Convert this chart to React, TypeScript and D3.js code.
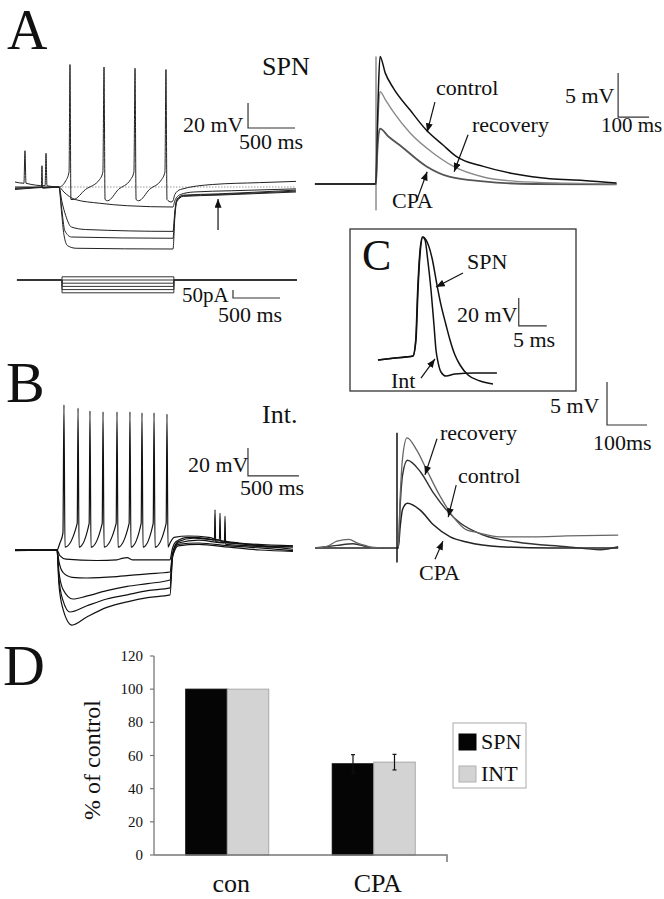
import React from "react";
import * as d3 from "d3";

type Pt = [number, number];

// ---------- Panel A, SPN: current-clamp steps (ms, mV) ----------
const spnSpiking: Pt[] = [
  [0, -56], [95, -57], [106, -31], [117, -57], [320, -59], [330, -33], [340, -59],
  [468, -60], [540, -55], [575, -48], [585, 38], [595, -70], [620, -70], [750, -62],
  [900, -54], [935, -48], [947, 36], [958, -70], [985, -71], [1100, -62], [1230, -54],
  [1265, -48], [1277, 35], [1288, -70], [1315, -71], [1430, -62], [1560, -54], [1595, -48],
  [1606, 34], [1617, -70], [1660, -72], [1681, -71], [1700, -66], [1760, -62], [2100, -58],
  [2600, -56.5], [2989, -55.5],
];
const spnHyper1: Pt[] = [
  [0, -60], [280, -60], [287, -43], [294, -61], [468, -60], [520, -64], [640, -70],
  [900, -73], [1200, -75], [1681, -76], [1700, -71], [1760, -66], [1900, -64], [2300, -63],
  [2989, -61.5],
];
const spnHyper2: Pt[] = [
  [0, -61], [468, -60], [500, -72], [540, -83], [600, -92], [750, -94], [1681, -95.5],
  [1700, -80], [1720, -70], [1790, -66.5], [2160, -65.5], [2989, -62.5],
];
const spnHyper3: Pt[] = [
  [0, -61], [468, -60], [495, -76], [530, -95], [600, -100], [1681, -101], [1700, -82],
  [1720, -71], [1790, -67], [2160, -66], [2989, -63.3],
];
const spnHyper4: Pt[] = [
  [0, -62], [468, -60], [495, -80], [520, -98], [560, -107], [650, -109], [1681, -109.6],
  [1700, -85], [1720, -72], [1790, -67.5], [2160, -66.5], [2989, -64],
];
const spnTraces = [spnSpiking, spnHyper1, spnHyper2, spnHyper3, spnHyper4];
const spnRestMv = -60;
const spnCurrentSteps = [20, 0, -20, -40, -60, -80]; // pA
const spnStepWindow = [500, 1690]; // ms

// ---------- Panel A, SPN: evoked EPSPs (ms from stimulus, mV) ----------
const spnControl: Pt[] = [
  [-197, 0], [-2, 0], [0, 0.5], [4, 6], [8, 11], [13, 14.5], [30, 12.6], [56, 10.9],
  [110, 8.4], [163, 6.1], [217, 4.4], [260, 3.1], [346, 2.0], [454, 1.1], [561, 0.6],
  [669, 0.4], [776, 0.1],
];
const spnRecovery: Pt[] = [
  [-197, 0], [0, 0], [4, 5], [8, 8.5], [13, 10.5], [30, 9.6], [56, 8.2], [110, 5.8],
  [185, 3.5], [250, 2.0], [346, 0.8], [454, 0.3], [615, 0.1], [776, 0],
];
const spnCpa: Pt[] = [
  [-197, 0], [0, 0], [4, 3.5], [8, 5.5], [13, 6.3], [40, 5.4], [77, 4.4], [163, 2.0],
  [239, 0.8], [346, 0.3], [506, 0], [776, -0.05],
];
const spnArtifact: Pt[] = [[0, 14.5], [0, -3]];

// ---------- Panel C: single action potentials (ms, mV) ----------
const apSpn: Pt[] = [
  [-8.04, -61.4], [-5, -60], [-1.79, -58.6], [-1.25, -47.1], [-0.89, -11.4], [-0.54, 13.6],
  [0, 26.4], [0.54, 24.3], [1.61, 11.4], [2.5, -7.9], [3.21, -22.1], [4.11, -36.4],
  [4.82, -47.1], [5.71, -57.9], [6.61, -65], [8.04, -72.1], [10.18, -76.4], [12.5, -78.6],
];
const apInt: Pt[] = [
  [-8.04, -61.4], [-5, -60], [-1.79, -58.6], [-1.3, -47], [-0.95, -11.4], [-0.6, 13.6],
  [-0.1, 26.4], [0.36, 24.3], [0.89, 8.6], [1.43, -11.4], [1.96, -36.4], [2.32, -54.3],
  [2.68, -62.9], [3.21, -70], [4.11, -72.9], [5.71, -71.4], [9.29, -70.7], [13.2, -70.7],
];

// ---------- Panel B, interneuron: current-clamp steps (ms, mV) ----------
const intSpiking: Pt[] = [
  [0, -60], [412, -60], [440, -55], [470, -48], [480, 43.6], [490, -58], [610, -41],
  [618, 41.4], [628, -58], [727, -41], [735, 39.3], [745, -58], [855, -41], [863, 38.6],
  [873, -58], [992, -41], [1000, 38.6], [1010, -58], [1119, -41], [1127, 38.6], [1137, -58],
  [1237, -41], [1245, 37.9], [1255, -58], [1355, -41], [1363, 37.9], [1373, -58], [1482, -41],
  [1490, 37.1], [1500, -58], [1520, -55], [1560, -51], [1700, -50], [1900, -51], [2000, -53],
  [2200, -55], [2725, -57],
];
const intHyper1: Pt[] = [
  [0, -60], [412, -60], [440, -64], [500, -66.5], [800, -67.5], [1000, -67], [1050, -66],
  [1100, -65.5], [1150, -67], [1520, -67], [1540, -60], [1580, -54], [1700, -51], [1900, -52],
  [1955, -53], [1961, -31.4], [1967, -54], [2200, -55.5], [2400, -57], [2725, -58],
];
const intHyper2: Pt[] = [
  [0, -60.5], [412, -60], [430, -68], [470, -76], [560, -79.5], [700, -80], [1000, -79],
  [1300, -77], [1520, -75.7], [1545, -62], [1600, -54], [1750, -51.5], [2004, -53],
  [2010, -33.6], [2016, -54], [2300, -56], [2725, -59.5],
];
const intHyper3: Pt[] = [
  [0, -60], [412, -60], [430, -75], [470, -88], [569, -95], [700, -93], [900, -89],
  [1100, -86], [1300, -84], [1520, -81.4], [1545, -63], [1600, -55], [1800, -53],
  [2053, -55], [2059, -35.7], [2065, -56], [2300, -57], [2500, -58], [2725, -57],
];
const intHyper4: Pt[] = [
  [0, -60], [412, -60], [430, -80], [470, -96], [539, -104.3], [700, -100], [900, -95],
  [1100, -92], [1300, -89], [1520, -87.1], [1545, -64], [1600, -56], [1800, -55],
  [2100, -57], [2400, -58.5], [2725, -60.5],
];
const intHyper5: Pt[] = [
  [0, -60], [412, -60], [430, -84], [470, -102], [559, -113.6], [700, -108], [900, -101],
  [1100, -97], [1300, -94], [1520, -92.1], [1545, -65], [1600, -57], [1800, -56],
  [2100, -58], [2400, -60], [2725, -61],
];
const intTraces = [intSpiking, intHyper1, intHyper2, intHyper3, intHyper4, intHyper5];

// ---------- Panel B, interneuron: evoked EPSPs (ms from stimulus, mV) ----------
const intRecovery: Pt[] = [
  [-205, 0], [-175, 0.2], [-150, 0.8], [-120, 1.0], [-100, 0.6], [-80, 0.3], [-60, 0.05],
  [-5, 0], [3, 0], [8, 6], [14, 10.5], [25, 12.8], [49, 11.4], [74, 9.1], [108, 6.0],
  [141, 3.6], [174, 2.1], [191, 1.9], [258, 1.3], [341, 1.3], [424, 1.4], [553, 1.5],
];
const intControl: Pt[] = [
  [-205, 0], [-150, 0.3], [-110, 0.5], [-70, 0.1], [-5, 0], [3, 0], [8, 5], [14, 8.5],
  [26, 10.2], [58, 8.9], [91, 6.4], [124, 4.4], [158, 2.9], [216, 1.5], [299, 0.7],
  [424, 0.15], [508, -0.2], [553, 0.15],
];
const intCpa: Pt[] = [
  [-205, 0], [-5, 0], [3, 0], [8, 2.5], [14, 4.5], [26, 5.2], [58, 4.4], [91, 2.7],
  [133, 1.3], [174, 0.7], [258, 0.15], [383, 0], [553, 0],
];
const intArtifact: Pt[] = [[0, 13.4], [0, -1.7]];

// ---------- Panel D: summary bars ----------
const categories = ["con", "CPA"];
const seriesNames = ["SPN", "INT"];
const spnPercent = [100, 55];
const intPercent = [100, 56];
const spnSem = [0, 5.5];
const intSem = [0, 4.7];
const yTicks = [0, 20, 40, 60, 80, 100, 120];

const FONT = "Liberation Serif";

const mkLine = (X: any, Y: any, curve: any = d3.curveMonotoneX) =>
  d3.line<Pt>().x((d) => X(d[0])).y((d) => Y(d[1])).curve(curve);

const Txt = ({ x, y, size = 22, anchor = "start", children }: any) => (
  <text
    x={x}
    y={y}
    textAnchor={anchor}
    fill="#111"
    style={{ fontFamily: FONT, fontSize: `${size}px` }}
  >
    {children}
  </text>
);

// scale bar drawn from its corner in data units
const ScaleBar = ({ X, Y, corner, dv, dt }: any) => {
  const x0 = X(corner[0]);
  const y0 = Y(corner[1]);
  return (
    <path
      d={`M${x0},${Y(corner[1] + dv)}L${x0},${y0}L${X(corner[0] + dt)},${y0}`}
      fill="none"
      stroke="#333"
      strokeWidth={1.2}
    />
  );
};

const Arrow = ({ X, Y, from, to }: any) => (
  <line
    x1={X(from[0])}
    y1={Y(from[1])}
    x2={X(to[0])}
    y2={Y(to[1])}
    stroke="#111"
    strokeWidth={1.2}
    markerEnd="url(#arrowHead)"
  />
);

export default function App() {
  // Panel A scales
  const aX = d3.scaleLinear().domain([0, 3000]).range([15, 297]);
  const aY = d3.scaleLinear().domain([-110, 40]).range([249.5, 62]);
  const aI = d3.scaleLinear().domain([-100, 25]).range([296, 276]);
  const arX = d3.scaleLinear().domain([-200, 900]).range([314, 655]);
  const arY = d3.scaleLinear().domain([-5, 15]).range([228, 52]);
  // Panel C scales
  const cX = d3.scaleLinear().domain([-10, 25]).range([367, 563]);
  const cY = d3.scaleLinear().domain([-80, 30]).range([386, 232]);
  // Panel B scales
  const bX = d3.scaleLinear().domain([0, 2800]).range([15, 300.6]);
  const bY = d3.scaleLinear().domain([-120, 50]).range([634, 396]);
  const brX = d3.scaleLinear().domain([-200, 650]).range([317, 657]);
  const brY = d3.scaleLinear().domain([-5, 20]).range([591, 376]);
  // Panel D scales
  const dY = d3.scaleLinear().domain([0, 120]).range([855, 656]);
  const dX = d3.scaleBand().domain(categories).range([154, 447]);
  const dSub = d3
    .scaleBand()
    .domain(seriesNames)
    .range([0, dX.bandwidth()])
    .paddingInner(0)
    .paddingOuter(0.765);

  const aLine = mkLine(aX, aY);
  const arLine = mkLine(arX, arY);
  const cLine = mkLine(cX, cY);
  const bLine = mkLine(bX, bY);
  const brLine = mkLine(brX, brY);

  const currentPath = (amp: number) =>
    d3.line<Pt>().x((d) => aX(d[0])).y((d) => aI(d[1]))([
      [21, 0],
      [spnStepWindow[0], 0],
      [spnStepWindow[0], amp],
      [spnStepWindow[1], amp],
      [spnStepWindow[1], 0],
      [3000, 0],
    ]);

  const barRows = categories.map((c, i) => [
    { cat: c, s: "SPN", v: spnPercent[i], e: spnSem[i], fill: "#050505", stroke: "#050505" },
    { cat: c, s: "INT", v: intPercent[i], e: intSem[i], fill: "#d3d3d3", stroke: "#a8a8a8" },
  ]).flat();

  return (
    <svg
      width={664}
      height={899}
      style={{ position: "absolute", left: 0, top: 0, background: "#fff", fontFamily: FONT }}
    >
      <defs>
        <marker
          id="arrowHead"
          viewBox="0 0 10 8"
          refX={10}
          refY={4}
          markerWidth={9}
          markerHeight={7}
          markerUnits="userSpaceOnUse"
          orient="auto"
        >
          <path d="M0,0L10,4L0,8z" fill="#111" />
        </marker>
      </defs>
      <rect width={664} height={899} fill="#fff" />

      {/* ---------------- Panel A ---------------- */}
      <Txt x={7} y={49} size={56}>A</Txt>
      <Txt x={262} y={75} size={26}>SPN</Txt>
      <line
        x1={aX(500)}
        x2={aX(2989)}
        y1={aY(spnRestMv)}
        y2={aY(spnRestMv)}
        stroke="#999"
        strokeWidth={1}
        strokeDasharray="1.5,1.5"
      />
      {spnTraces.map((t, i) => (
        <path key={i} d={aLine(t) || ""} fill="none" stroke="#222" strokeWidth={1} />
      ))}
      <Arrow X={aX} Y={aY} from={[2160, -94.4]} to={[2160, -69.6]} />
      <ScaleBar X={aX} Y={aY} corner={[2479, -12.8]} dv={20} dt={500} />
      <Txt x={183} y={132}>20 mV</Txt>
      <Txt x={239} y={149}>500 ms</Txt>

      {spnCurrentSteps.map((amp) => (
        <path key={amp} d={currentPath(amp) || ""} fill="none" stroke="#333" strokeWidth={1} />
      ))}
      <path
        d={`M${aX(2319)},${aI(-112.5 + 50)}L${aX(2319)},${aI(-112.5)}L${aX(2819)},${aI(-112.5)}`}
        fill="none"
        stroke="#333"
        strokeWidth={1.2}
      />
      <Txt x={182} y={302} size={21}>50pA</Txt>
      <Txt x={218} y={322}>500 ms</Txt>

      {[
        { d: spnCpa, c: "#555", w: 1.8 },
        { d: spnRecovery, c: "#8a8a8a", w: 1.4 },
        { d: spnControl, c: "#111", w: 1.5 },
      ].map((t, i) => (
        <path key={i} d={arLine(t.d) || ""} fill="none" stroke={t.c} strokeWidth={t.w} />
      ))}
      <path d={mkLine(arX, arY, d3.curveLinear)(spnArtifact) || ""} stroke="#555" strokeWidth={1} />
      <Arrow X={arX} Y={arY} from={[190, 9.3]} to={[165, 5.9]} />
      <Arrow X={arX} Y={arY} from={[297, 5.6]} to={[252, 1.4]} />
      <Arrow X={arX} Y={arY} from={[132, -1.8]} to={[165, 1.4]} />
      <Txt x={436} y={95}>control</Txt>
      <Txt x={472} y={132}>recovery</Txt>
      <Txt x={392} y={208}>CPA</Txt>
      <ScaleBar X={arX} Y={arY} corner={[781, 7.6]} dv={5} dt={100} />
      <Txt x={565} y={103}>5 mV</Txt>
      <Txt x={601} y={132} size={21}>100 ms</Txt>

      {/* ---------------- Panel C ---------------- */}
      <rect x={350} y={229} width={226} height={162} fill="#fff" stroke="#333" strokeWidth={1.3} />
      <Txt x={362} y={270} size={44}>C</Txt>
      <path d={cLine(apSpn) || ""} fill="none" stroke="#111" strokeWidth={1.5} />
      <path d={cLine(apInt) || ""} fill="none" stroke="#111" strokeWidth={1.5} />
      <Arrow X={cX} Y={cY} from={[7.14, 0.7]} to={[2.32, -9.3]} />
      <Arrow X={cX} Y={cY} from={[-0.36, -74.3]} to={[2.14, -60.7]} />
      <ScaleBar X={cX} Y={cY} corner={[17.1, -37.1]} dv={20} dt={5} />
      <Txt x={467} y={269}>SPN</Txt>
      <Txt x={457} y={322}>20 mV</Txt>
      <Txt x={513} y={347}>5 ms</Txt>
      <Txt x={391} y={388}>Int</Txt>

      {/* ---------------- Panel B ---------------- */}
      <Txt x={6} y={402} size={58}>B</Txt>
      <Txt x={262} y={423} size={26}>Int.</Txt>
      {intTraces.map((t, i) => (
        <path key={i} d={bLine(t) || ""} fill="none" stroke="#111" strokeWidth={1.2} />
      ))}
      <ScaleBar X={bX} Y={bY} corner={[2284, -7.1]} dv={20} dt={500} />
      <Txt x={188} y={472}>20 mV</Txt>
      <Txt x={240} y={495}>500 ms</Txt>

      {[
        { d: intCpa, c: "#222", w: 1.5 },
        { d: intControl, c: "#333", w: 1.4 },
        { d: intRecovery, c: "#666", w: 1.3 },
      ].map((t, i) => (
        <path key={i} d={brLine(t.d) || ""} fill="none" stroke={t.c} strokeWidth={t.w} />
      ))}
      <path d={mkLine(brX, brY, d3.curveLinear)(intArtifact) || ""} stroke="#111" strokeWidth={1.5} />
      <Arrow X={brX} Y={brY} from={[100, 12.7]} to={[70, 8.5]} />
      <Arrow X={brX} Y={brY} from={[148, 7.3]} to={[128, 3.6]} />
      <Arrow X={brX} Y={brY} from={[95, -1.3]} to={[115, 0.8]} />
      <Txt x={440} y={440}>recovery</Txt>
      <Txt x={458} y={483}>control</Txt>
      <Txt x={419} y={580}>CPA</Txt>
      <ScaleBar X={brX} Y={brY} corner={[525, 14.3]} dv={5} dt={100} />
      <Txt x={550} y={413}>5 mV</Txt>
      <Txt x={593} y={450}>100ms</Txt>

      {/* ---------------- Panel D ---------------- */}
      <Txt x={3} y={685} size={58}>D</Txt>
      <line x1={154} x2={154} y1={dY(120)} y2={dY(0)} stroke="#777" strokeWidth={1.3} />
      {yTicks.map((t) => (
        <g key={t}>
          <line x1={150} x2={154} y1={dY(t)} y2={dY(t)} stroke="#777" strokeWidth={1.2} />
          <Txt x={143} y={dY(t) + 5} size={15} anchor="end">{t}</Txt>
        </g>
      ))}
      <text
        transform={`translate(100,760) rotate(-90)`}
        textAnchor="middle"
        fill="#111"
        style={{ fontFamily: FONT, fontSize: "24px" }}
      >
        % of control
      </text>
      {barRows.map((r, i) => {
        const x = (dX(r.cat) || 0) + (dSub(r.s) || 0);
        return (
          <rect
            key={i}
            x={x}
            y={dY(r.v)}
            width={dSub.bandwidth()}
            height={dY(0) - dY(r.v)}
            fill={r.fill}
            stroke={r.stroke}
            strokeWidth={1}
          />
        );
      })}
      {barRows
        .filter((r) => r.e > 0)
        .map((r, i) => {
          const cx = (dX(r.cat) || 0) + (dSub(r.s) || 0) + dSub.bandwidth() / 2;
          return (
            <g key={i} stroke="#111" strokeWidth={1.2}>
              <line x1={cx} x2={cx} y1={dY(r.v + r.e)} y2={dY(r.v - r.e)} />
              <line x1={cx - 2} x2={cx + 2} y1={dY(r.v + r.e)} y2={dY(r.v + r.e)} />
              <line x1={cx - 2} x2={cx + 2} y1={dY(r.v - r.e)} y2={dY(r.v - r.e)} />
            </g>
          );
        })}
      <path
        d={`M154,${dY(0)}L447,${dY(0)}L447,${dY(0) + 7}`}
        fill="none"
        stroke="#777"
        strokeWidth={1.5}
      />
      {categories.map((c) => (
        <Txt key={c} x={(dX(c) || 0) + dX.bandwidth() / 2 + 4} y={892} size={26} anchor="middle">
          {c}
        </Txt>
      ))}
      <rect x={453} y={723} width={73} height={65} fill="#fff" stroke="#aaa" strokeWidth={1} />
      {seriesNames.map((s, i) => (
        <g key={s}>
          <rect
            x={459}
            y={734 + i * 32}
            width={17}
            height={16}
            fill={i === 0 ? "#050505" : "#d3d3d3"}
            stroke={i === 0 ? "#050505" : "#b0b0b0"}
          />
          <Txt x={481} y={749 + i * 32}>{s}</Txt>
        </g>
      ))}
    </svg>
  );
}
